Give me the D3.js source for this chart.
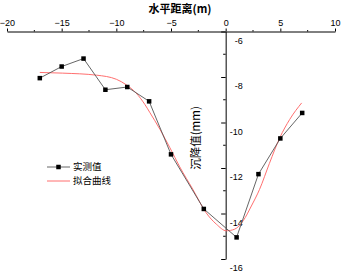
<!DOCTYPE html>
<html>
<head>
<meta charset="utf-8">
<script src="https://cdn.jsdelivr.net/npm/d3@7"></script>
<style>
  body { margin: 0; background: #fff; }
  svg { display: block; }
  .tick text { font-family: "Liberation Sans", Arial, sans-serif; }
</style>
</head>
<body>
<div id="chart"></div>
<script>
const measX = [-17, -15, -13, -11, -9, -7, -5, -2, 1, 3, 5, 7];
const measY = [-8.05, -7.54, -7.19, -8.56, -8.44, -9.07, -11.40, -13.80, -15.05, -12.27, -10.70, -9.58];

// fitted curve
const fitX = [-17, -14.9, -11.8, -10, -9.1, -8.2, -7.4, -6.95, -6.0, -5.1, -4.2, -3.0, -1.8, -0.85, 0.06, 0.82, 1.6, 2.35, 3.1, 4.0, 4.95, 5.85, 6.95];
const fitY = [-7.80, -7.83, -7.92, -8.10, -8.34, -8.70, -9.20, -9.55, -10.31, -11.11, -11.95, -12.94, -13.96, -14.47, -14.76, -14.69, -14.32, -13.67, -12.94, -11.80, -10.67, -9.87, -9.14];

const xTicks = [-20, -15, -10, -5, 0, 5, 10];
const xMinor = [-17.5, -12.5, -7.5, -2.5, 2.5, 7.5];
const yTicks = [-6, -8, -10, -12, -14, -16];
const yMinor = [-7, -9, -11, -13, -15];

const svgWidth = 343, svgHeight = 274;

const svg = d3.select("#chart")
    .append("svg")
    .attr("width", svgWidth)
    .attr("height", svgHeight);

const x = d3.scaleLinear().domain([-20, 10]).range([7, 335]);
const y = d3.scaleLinear().domain([-6, -16]).range([31.5, 259]);

// x axis sits on top at y = -6
const xAxisG = svg.append("g")
    .attr("transform", `translate(0, ${y(-6)})`)
    .call(d3.axisTop(x).tickValues(xTicks).tickSize(3).tickSizeOuter(0).tickPadding(3).tickFormat(d3.format("d")));
xAxisG.append("g").selectAll("line")
    .data(xMinor)
    .enter()
    .append("line")
    .attr("x1", d => x(d)).attr("x2", d => x(d))
    .attr("y1", 0).attr("y2", -1.5)
    .attr("stroke", "#000");
xAxisG.selectAll(".tick text").attr("font-size", "9px").attr("fill", "#000");
xAxisG.select(".domain").attr("stroke", "#000");

// y axis at x = 0, labels drawn on the right below ticks
const yAxisG = svg.append("g")
    .attr("transform", `translate(${x(0)}, 0)`)
    .call(d3.axisLeft(y).tickValues(yTicks).tickSize(4.5).tickSizeOuter(0).tickFormat(""));
yAxisG.append("g").selectAll("line")
    .data(yMinor)
    .enter()
    .append("line")
    .attr("x1", 0).attr("x2", -2.5)
    .attr("y1", d => y(d)).attr("y2", d => y(d))
    .attr("stroke", "#000");
yAxisG.selectAll(".ylab")
    .data(yTicks)
    .enter()
    .append("text")
    .attr("class", "ylab")
    .attr("x", 17)
    .attr("y", d => y(d) + 9)
    .attr("dy", "0.35em")
    .attr("text-anchor", "end")
    .attr("fill", "#000")
    .attr("font-family", "'Liberation Sans', Arial, sans-serif")
    .attr("font-size", "9px")
    .text(d => d);

// titles
svg.append("text")
    .text("水平距离(m)")
    .attr("x", 180)
    .attr("y", 13)
    .attr("text-anchor", "middle")
    .attr("font-family", "'Noto Sans CJK SC', sans-serif")
    .attr("font-weight", "bold")
    .attr("font-size", "11px");

svg.append("text")
    .text("沉降值(mm)")
    .attr("transform", `translate(200, 138) rotate(-90)`)
    .attr("text-anchor", "middle")
    .attr("font-family", "'Noto Sans CJK SC', sans-serif")
    .attr("font-size", "11.5px");

// fitted curve
const fitData = fitX.map((d, i) => [d, fitY[i]]);
svg.append("path")
    .datum(fitData)
    .attr("fill", "none")
    .attr("stroke", "#ff6f6f")
    .attr("stroke-width", 1)
    .attr("d", d3.line().x(d => x(d[0])).y(d => y(d[1])).curve(d3.curveMonotoneX));

// measured line + markers
const measData = measX.map((d, i) => [d, measY[i]]);
svg.append("path")
    .datum(measData)
    .attr("fill", "none")
    .attr("stroke", "#555")
    .attr("stroke-width", 0.9)
    .attr("d", d3.line().x(d => x(d[0])).y(d => y(d[1])));

const ms = 4.5;
svg.selectAll(".pt")
    .data(measData)
    .enter()
    .append("rect")
    .attr("class", "pt")
    .attr("x", d => x(d[0]) - ms / 2)
    .attr("y", d => y(d[1]) - ms / 2)
    .attr("width", ms)
    .attr("height", ms)
    .attr("fill", "#000");

// legend
const legY = [167, 181];
const leg = svg.append("g");
leg.append("line").attr("x1", 47).attr("x2", 70).attr("y1", legY[0]).attr("y2", legY[0])
    .attr("stroke", "#555").attr("stroke-width", 0.9);
leg.append("rect").attr("x", 58.5 - ms / 2).attr("y", legY[0] - ms / 2)
    .attr("width", ms).attr("height", ms).attr("fill", "#000");
leg.append("line").attr("x1", 47).attr("x2", 70).attr("y1", legY[1]).attr("y2", legY[1])
    .attr("stroke", "#ff6f6f").attr("stroke-width", 1);
leg.append("text").text("实测值").attr("x", 73).attr("y", legY[0]).attr("dy", "0.35em")
    .attr("font-family", "'Noto Sans CJK SC', sans-serif").attr("font-size", "9.5px");
leg.append("text").text("拟合曲线").attr("x", 73).attr("y", legY[1]).attr("dy", "0.35em")
    .attr("font-family", "'Noto Sans CJK SC', sans-serif").attr("font-size", "9.5px");
</script>
</body>
</html>
